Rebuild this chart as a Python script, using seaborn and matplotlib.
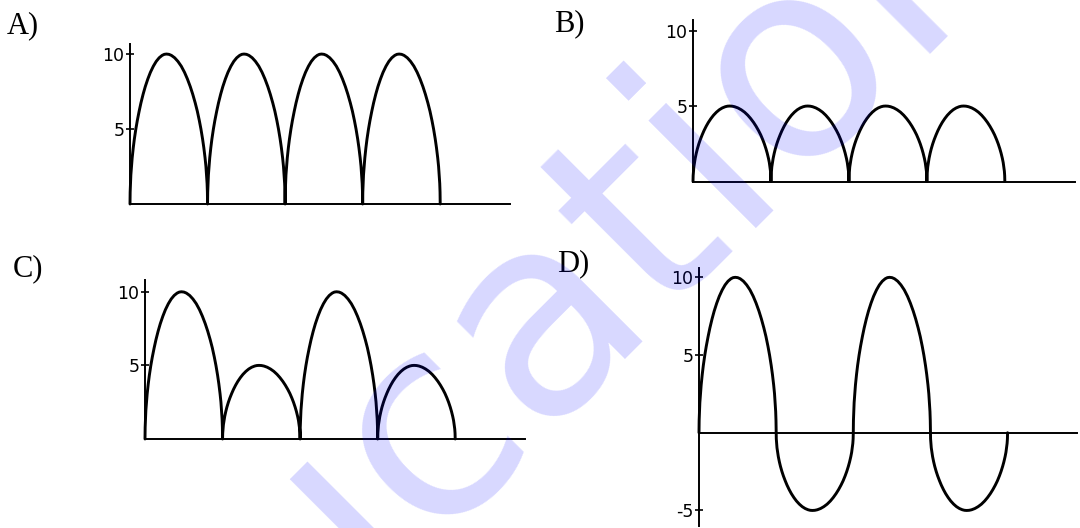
import numpy as np
import pandas as pd
import matplotlib
matplotlib.use("Agg")
import matplotlib.pyplot as plt
import seaborn as sns

# ---------------- data ----------------
panel_labels = ["A)", "B)", "C)", "D)"]
lobe_peaks_A = [10, 10, 10, 10]
lobe_peaks_B = [5, 5, 5, 5]
lobe_peaks_C = [10, 5, 10, 5]
lobe_peaks_D = [10, -5, 10, -5]

# shape of one lobe: position across the half-period, fraction of the peak
arc_t = [0, 0.002, 0.006, 0.011, 0.019, 0.028, 0.042, 0.056, 0.075, 0.094, 0.118,
         0.141, 0.169, 0.197, 0.230, 0.263, 0.301, 0.338, 0.376, 0.414, 0.442, 0.47,
         0.502, 0.534, 0.576, 0.618, 0.661, 0.703, 0.740, 0.777, 0.809, 0.841, 0.868,
         0.894, 0.915, 0.936, 0.952, 0.968, 0.979, 0.987, 0.994, 0.998, 1.0]
arc_h = [0, 0.079, 0.137, 0.194, 0.251, 0.307, 0.375, 0.433, 0.499, 0.556, 0.619,
         0.674, 0.732, 0.783, 0.834, 0.878, 0.919, 0.951, 0.975, 0.991, 0.998, 1.0,
         0.998, 0.991, 0.975, 0.951, 0.919, 0.878, 0.834, 0.783, 0.732, 0.674, 0.619,
         0.556, 0.499, 0.433, 0.375, 0.307, 0.251, 0.194, 0.137, 0.079, 0]

yticks_ABC = [5, 10]
ytick_labels_ABC = ["5", "10"]
yticks_D = [-5, 5, 10]
ytick_labels_D = ["-5", "5", "10"]

watermark_text = "ucation"

# ---------------- style ----------------
sns.set_style("white")
plt.rcParams["font.family"] = ["DejaVu Sans"]
plt.rcParams["axes.unicode_minus"] = False

W, H = 1080, 528
fig = plt.figure(figsize=(W / 100, H / 100), dpi=100)
fig.patch.set_facecolor("white")


def add_ax(l, r, t, b):
    return fig.add_axes([l / W, 1 - b / H, (r - l) / W, (b - t) / H])


def lobe_frame(peaks):
    xs, ys = [], []
    for k, p in enumerate(peaks):
        for t, h in zip(arc_t, arc_h):
            xs.append(k + t)
            ys.append(p * h)
    return pd.DataFrame({"x": xs, "y": ys})


panels = [
    (lobe_peaks_A, (130, 510, 44, 204), (0, 10.67), yticks_ABC, ytick_labels_ABC, False),
    (lobe_peaks_B, (693, 1075, 20, 181.5), (0, 10.7), yticks_ABC, ytick_labels_ABC, False),
    (lobe_peaks_C, (145, 525, 280, 439), (0, 10.8), yticks_ABC, ytick_labels_ABC, False),
    (lobe_peaks_D, (699, 1077, 268, 526), (-6.0, 10.6), yticks_D, ytick_labels_D, True),
]

for peaks, rect, ylim, yt, ytl, centre_axis in panels:
    ax = add_ax(*rect)
    ax.set_facecolor("none")
    df = lobe_frame(peaks)
    sns.lineplot(data=df, x="x", y="y", ax=ax, color="black", linewidth=2.1,
                 sort=False, estimator=None, clip_on=False)
    ax.set_xlim(0, 4.9)
    ax.set_ylim(*ylim)
    ax.set_xlabel("")
    ax.set_ylabel("")
    ax.set_xticks([])
    ax.set_yticks(yt)
    ax.set_yticklabels(ytl)
    ax.tick_params(axis="y", direction="inout", length=6, width=1.2, pad=1,
                   labelsize=12.5, colors="black", left=True)
    for s in ["top", "right"]:
        ax.spines[s].set_visible(False)
    for s in ["left", "bottom"]:
        ax.spines[s].set_color("black")
        ax.spines[s].set_linewidth(1.4)
    if centre_axis:
        ax.spines["bottom"].set_position(("data", 0))
    ax.grid(False)

# panel letters
letter_pos = [(7, 33), (554, 31), (13, 276), (557, 271)]
for lab, (px, py) in zip(panel_labels, letter_pos):
    fig.text(px / W, 1 - py / H, lab, family=["Liberation Serif"], fontsize=22,
             ha="left", va="baseline", color="black")

# watermark
fig.text(612 / W, 1 - 240 / H, watermark_text, rotation=45, rotation_mode="anchor",
         fontsize=200, family=["DejaVu Sans"], fontweight="normal",
         color=(0.0, 0.0, 1.0), alpha=0.155, ha="center", va="center", zorder=10)

fig.savefig("out.png", dpi=100, facecolor="white")
